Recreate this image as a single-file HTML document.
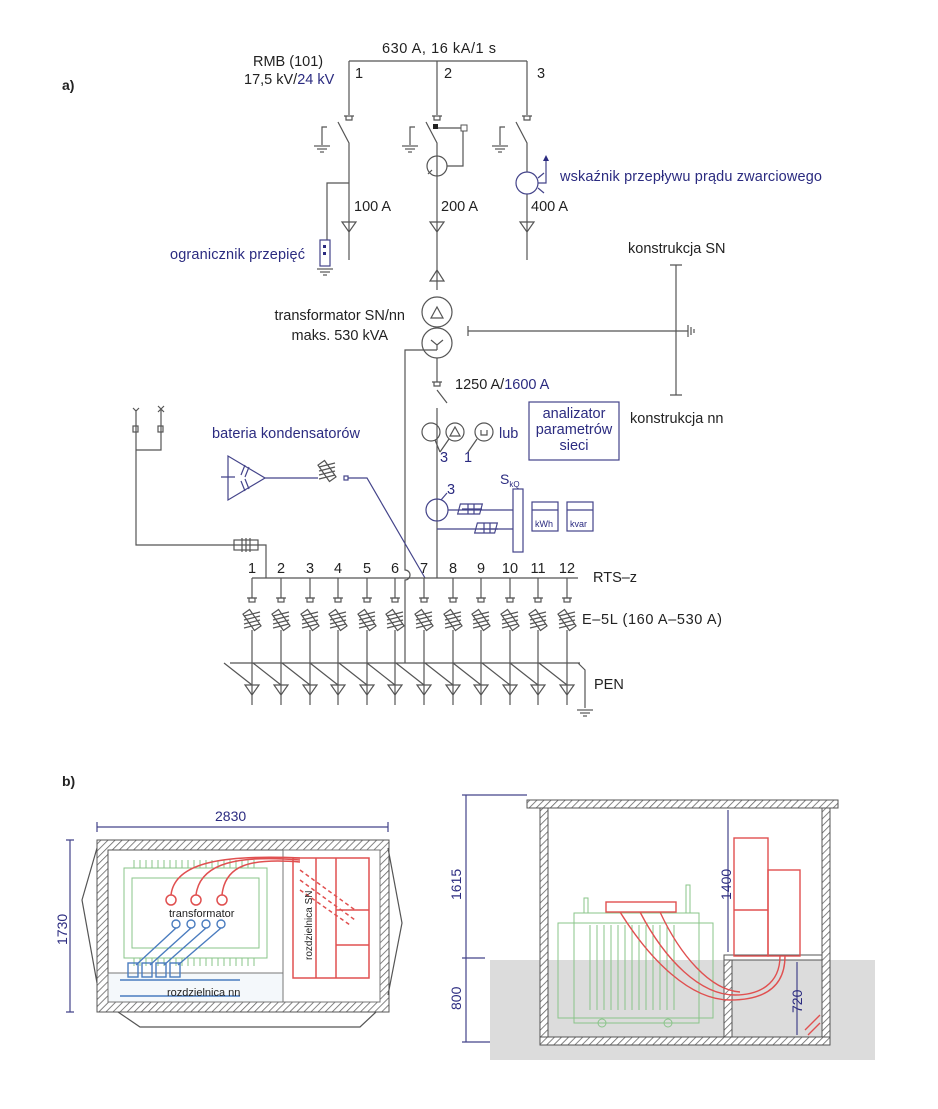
<!DOCTYPE html>
<html><head><meta charset="utf-8"><style>
html,body{margin:0;padding:0;background:#fff}
svg{display:block}
text{font-family:"Liberation Sans",Arial,sans-serif;font-size:14.5px;fill:#222}
.b{fill:#2b2b80}
.l{stroke:#555;stroke-width:1.2;fill:none}
.bl{stroke:#44448a;stroke-width:1.2;fill:none}
</style></head><body>
<svg width="938" height="1109" viewBox="0 0 938 1109">
<defs>
<pattern id="h" width="5" height="5" patternUnits="userSpaceOnUse" patternTransform="rotate(45)">
<rect width="5" height="5" fill="#fff"/><line x1="0" y1="0" x2="0" y2="5" stroke="#666" stroke-width="1.6"/></pattern>
<g id="gnd"><line x1="-8" y1="0" x2="8" y2="0" class="l"/><line x1="-5" y1="3" x2="5" y2="3" class="l"/><line x1="-2" y1="6" x2="2" y2="6" class="l"/></g>
<g id="fuse" class="l"><rect x="-4" y="-10" width="8" height="20" transform="rotate(-35)"/><line x1="-8" y1="-4" x2="8" y2="-8"/><line x1="-8" y1="0" x2="8" y2="-4"/><line x1="-8" y1="4" x2="8" y2="0"/><line x1="-8" y1="8" x2="8" y2="4"/></g>
<g id="fdr"><line x1="0" y1="0" x2="0" y2="20" class="l"/><rect x="-3" y="20" width="6" height="4" class="l"/><line x1="-5" y1="20" x2="5" y2="20" class="l"/><use href="#fuse" y="42"/><line x1="0" y1="52" x2="0" y2="127" class="l"/><line x1="-28" y1="85" x2="0" y2="107" class="l"/><polygon points="-7,107 7,107 0,117" class="l"/></g>
</defs>

<text x="62" y="90" style="font-weight:bold;font-size:14px">a)</text>
<text x="253" y="66">RMB (101)</text>
<text x="244" y="84">17,5 kV/<tspan class="b">24 kV</tspan></text>
<text x="382" y="53" textLength="114">630 A, 16 kA/1 s</text>
<path class="l" d="M349 61H527M349 61V115M437 61V115M527 61V115"/>
<text x="355" y="78">1</text><text x="444" y="78">2</text><text x="537" y="78">3</text>
<g class="l">
<path d="M344 116h10M346 116v4h6v-4"/><path d="M432 116h10M434 116v4h6v-4"/><path d="M522 116h10M524 116v4h6v-4"/>
<path d="M338 122L349 143V260"/><path d="M426 122L437 143V290"/><path d="M516 122L527 143V172M527 194V260"/>
<path d="M327 127h-5v18M415 127h-5v18M505 127h-5v18"/>
<path d="M349 183H327V240"/>
<rect x="320" y="240" width="10" height="26" class="bl"/>
<path d="M437 128H463V166H447"/>
<circle cx="437" cy="166" r="10"/><line x1="428" y1="174" x2="432" y2="170"/>
<polygon points="342,222 356,222 349,232"/><polygon points="430,222 444,222 437,232"/><polygon points="520,222 534,222 527,232"/>
<polygon points="430,281 444,281 437,270"/>
</g>
<rect x="433" y="124" width="5" height="5" fill="#222"/><rect x="461" y="125" width="6" height="6" fill="#fff" stroke="#555"/>
<rect x="323" y="245" width="3" height="3" fill="#2b2b80"/><rect x="323" y="252" width="3" height="3" fill="#2b2b80"/>
<use href="#gnd" x="322" y="146"/><use href="#gnd" x="410" y="146"/><use href="#gnd" x="500" y="146"/><use href="#gnd" x="325" y="269"/>
<circle cx="527" cy="183" r="11" class="bl"/><path class="bl" d="M538 178l6-5M538 188l6 5M538 183H546V160"/><polygon points="543,161 549,161 546,155" fill="#2b2b80"/>
<text x="560" y="181" class="b" textLength="262">wskaźnik przepływu prądu zwarciowego</text>
<text x="354" y="211">100 A</text><text x="441" y="211">200 A</text><text x="531" y="211">400 A</text>
<text x="170" y="259" class="b" textLength="135">ogranicznik przepięć</text>
<text x="628" y="253">konstrukcja SN</text><text x="630" y="423">konstrukcja nn</text>
<g class="l">
<circle cx="437" cy="312" r="15"/><circle cx="437" cy="343" r="15"/>
<polygon points="431,318 443,318 437,307"/><path d="M431 340l6 5 6-5M437 345v5"/>
<path d="M468 331H688M468 326v10M676 265V395M670 265h12M670 395h12M688 325v12M691 327v8M694 329v4"/>
<path d="M437 358V382M432 382h10M434 382v4h6v-4M437 390L447 403M437 408V578"/>
<path d="M437 350H405V570a4 4 0 0 1 0 10V663"/>
<circle cx="431" cy="432" r="9"/><circle cx="455" cy="432" r="9"/><circle cx="484" cy="432" r="9"/>
<polygon points="450,436 460,436 455,427"/>
<path d="M481 430v5h6v-5"/><path d="M440 452l-5-12M440 452l9-13M468 452l9-13"/>
</g>
<text x="405" y="320" text-anchor="end">transformator SN/nn</text><text x="388" y="340" text-anchor="end">maks. 530 kVA</text>
<text x="455" y="389">1250 A/<tspan class="b">1600 A</tspan></text>
<text x="499" y="438" class="b">lub</text>
<rect x="529" y="402" width="90" height="58" class="bl"/>
<text x="574" y="418" class="b" text-anchor="middle">analizator</text>
<text x="574" y="434" class="b" text-anchor="middle">parametrów</text>
<text x="574" y="450" class="b" text-anchor="middle">sieci</text>
<text x="440" y="462" class="b">3</text><text x="464" y="462" class="b">1</text>
<g class="bl">
<circle cx="437" cy="510" r="11"/><path d="M441 500l6-7"/>
<path d="M448 510H513M437 529H513"/>
<rect x="513" y="489" width="10" height="63"/>
<rect x="459" y="504" width="22" height="10" transform="skewX(-15)" transform-origin="470 509"/>
<rect x="476" y="523" width="20" height="10" transform="skewX(-15)" transform-origin="486 528"/>
<path d="M462 509h20M468 504v10M474 504v10M480 529h18M484 523v10M490 523v10"/>
<rect x="532" y="502" width="26" height="29"/><path d="M532 510h26"/>
<rect x="567" y="502" width="26" height="29"/><path d="M567 510h26"/>
</g>
<text x="447" y="494" class="b">3</text>
<text x="500" y="484" class="b" style="font-size:14px">S<tspan style="font-size:8px" dy="3">kQ</tspan></text>
<text x="535" y="527" class="b" style="font-size:9px">kWh</text><text x="570" y="527" class="b" style="font-size:9px">kvar</text>
<text x="212" y="438" class="b" textLength="148">bateria kondensatorów</text>
<g class="bl">
<polygon points="228,456 228,500 265,478"/>
<path d="M221 477h14M245 465l-4 10M249 467l-4 10M245 491l-4 -10M249 489l-4-10"/>
<path d="M265 478H318"/><use href="#fuse" x="327" y="471"/>
<rect x="344" y="476" width="4" height="4"/><path d="M348 478H367L425 578"/>
</g>
<g class="l">
<path d="M136 410V545H266V578M161 410V450H136M133 408l3 3 3-3M158 406l6 6M164 406l-6 6"/>
<rect x="133" y="426" width="5" height="6"/><rect x="158" y="426" width="5" height="6"/>
<rect x="234" y="540" width="24" height="10"/><path d="M242 538v14M246 538v14M250 538v14"/>
<path d="M252 578H578M230 663H580M578 663L585 670V708"/>
</g>
<use href="#gnd" x="585" y="710"/>
<g>
<use href="#fdr" x="252" y="578"/><use href="#fdr" x="281" y="578"/><use href="#fdr" x="310" y="578"/><use href="#fdr" x="338" y="578"/><use href="#fdr" x="367" y="578"/><use href="#fdr" x="395" y="578"/><use href="#fdr" x="424" y="578"/><use href="#fdr" x="453" y="578"/><use href="#fdr" x="481" y="578"/><use href="#fdr" x="510" y="578"/><use href="#fdr" x="538" y="578"/><use href="#fdr" x="567" y="578"/>
</g>
<g text-anchor="middle"><text x="252" y="573">1</text><text x="281" y="573">2</text><text x="310" y="573">3</text><text x="338" y="573">4</text><text x="367" y="573">5</text><text x="395" y="573">6</text><text x="424" y="573">7</text><text x="453" y="573">8</text><text x="481" y="573">9</text><text x="510" y="573">10</text><text x="538" y="573">11</text><text x="567" y="573">12</text></g>
<text x="593" y="582">RTS–z</text><text x="582" y="624" textLength="140">E–5L (160 A–530 A)</text><text x="594" y="689">PEN</text>

<text x="62" y="786" style="font-weight:bold;font-size:14px">b)</text>
<text x="215" y="821" class="b" style="font-size:14px">2830</text>
<path class="bl" d="M97 827H388M97 822v10M388 822v10M70 840V1012M66 840h8M66 1012h8"/>
<text transform="translate(67,945) rotate(-90)" class="b" style="font-size:14px">1730</text>
<rect x="97" y="840" width="292" height="172" fill="url(#h)" stroke="#555"/>
<rect x="108" y="850" width="272" height="152" fill="#fff" stroke="#555"/>
<rect x="283" y="850" width="97" height="152" fill="#fff" stroke="#777"/>
<rect x="108" y="973" width="175" height="29" fill="#f4f8fb" stroke="#777"/>
<path d="M97 848L82 900 97 983M388 848L402 923 388 995M118 1012L140 1027H360L376 1012" class="l"/>
<g stroke="#8ac48a" fill="none">
<rect x="124" y="868" width="143" height="90"/><rect x="132" y="878" width="127" height="70"/>
<path d="M134 868v-8M140 868v-8M146 868v-8M152 868v-8M158 868v-8M164 868v-8M170 868v-8M176 868v-8M182 868v-8M188 868v-8M194 868v-8M200 868v-8M206 868v-8M212 868v-8M218 868v-8M224 868v-8M230 868v-8M236 868v-8M242 868v-8M248 868v-8M254 868v-8"/>
<path d="M134 958v8M140 958v8M146 958v8M152 958v8M158 958v8M164 958v8M170 958v8M176 958v8M182 958v8M188 958v8M194 958v8M200 958v8M206 958v8M212 958v8M218 958v8M224 958v8M230 958v8M236 958v8M242 958v8M248 958v8M254 958v8"/>
</g>
<g stroke="#e05050" fill="none" stroke-width="1.5">
<circle cx="171" cy="900" r="5"/><circle cx="196" cy="900" r="5"/><circle cx="222" cy="900" r="5"/>
<path d="M171 895C175 860 230 855 300 858M196 895C200 862 240 855 300 860M222 895C225 865 250 858 300 862"/>
<rect x="293" y="858" width="76" height="120"/><path d="M316 858v120M336 858v120M336 910h33M336 945h33"/>
<path d="M300 870l55 40M300 880l55 40M300 890l50 35" stroke-dasharray="4 3"/>
</g>
<g stroke="#4a7cbf" fill="none" stroke-width="1.4">
<circle cx="176" cy="924" r="4"/><circle cx="191" cy="924" r="4"/><circle cx="206" cy="924" r="4"/><circle cx="221" cy="924" r="4"/>
<path d="M176 928L136 965M191 928L150 965M206 928L164 965M221 928L178 965"/>
<rect x="128" y="963" width="10" height="14"/><rect x="142" y="963" width="10" height="14"/><rect x="156" y="963" width="10" height="14"/><rect x="170" y="963" width="10" height="14"/>
<path d="M120 980H240M120 996H240"/>
</g>
<text x="169" y="917" style="font-size:11px">transformator</text>
<text x="167" y="996" style="font-size:11px">rozdzielnica nn</text>
<text transform="translate(312,960) rotate(-90)" style="font-size:10px">rozdzielnica SN</text>

<rect x="490" y="960" width="385" height="100" fill="#dcdcdc"/>
<path class="bl" d="M466 795V1042M462 795h8M462 958h8M462 1042h8M466 795H527M466 958H485M466 1042H490"/>
<text transform="translate(461,900) rotate(-90)" class="b" style="font-size:14px">1615</text>
<text transform="translate(461,1010) rotate(-90)" class="b" style="font-size:14px">800</text>
<rect x="527" y="800" width="311" height="8" fill="url(#h)" stroke="#555"/>
<rect x="540" y="808" width="8" height="237" fill="url(#h)" stroke="#555"/>
<rect x="822" y="808" width="8" height="237" fill="url(#h)" stroke="#555"/>
<rect x="540" y="1037" width="290" height="8" fill="url(#h)" stroke="#555"/>
<rect x="724" y="955" width="98" height="5" fill="#fff" stroke="#555"/>
<rect x="724" y="960" width="8" height="77" fill="url(#h)" stroke="#555"/>
<path class="bl" d="M728 810V952M797 962V1035"/>
<text transform="translate(731,900) rotate(-90)" class="b" style="font-size:14px">1400</text>
<text transform="translate(802,1013) rotate(-90)" class="b" style="font-size:14px">720</text>
<g stroke="#8ac48a" fill="none">
<rect x="558" y="923" width="155" height="95"/><rect x="574" y="913" width="125" height="110"/>
<path d="M590 925v85M597 925v85M604 925v85M611 925v85M618 925v85M625 925v85M632 925v85M639 925v85M646 925v85M653 925v85M660 925v85M667 925v85M674 925v85"/>
<circle cx="602" cy="1023" r="4"/><circle cx="668" cy="1023" r="4"/>
<rect x="584" y="898" width="4" height="15"/><rect x="686" y="885" width="4" height="28"/>
</g>
<g stroke="#e05050" fill="none" stroke-width="1.4">
<rect x="734" y="838" width="34" height="118"/><rect x="768" y="870" width="32" height="86"/><path d="M734 910h34"/>
<rect x="606" y="902" width="70" height="10"/>
<path d="M620 912C650 960 690 1000 730 1000C760 1000 785 990 785 956M640 912C665 960 700 995 735 995C758 995 780 985 780 956M660 912C680 955 710 990 740 992"/>
<path d="M805 1030l15-15M808 1035l12-12"/>
</g>
</svg>
</body></html>
